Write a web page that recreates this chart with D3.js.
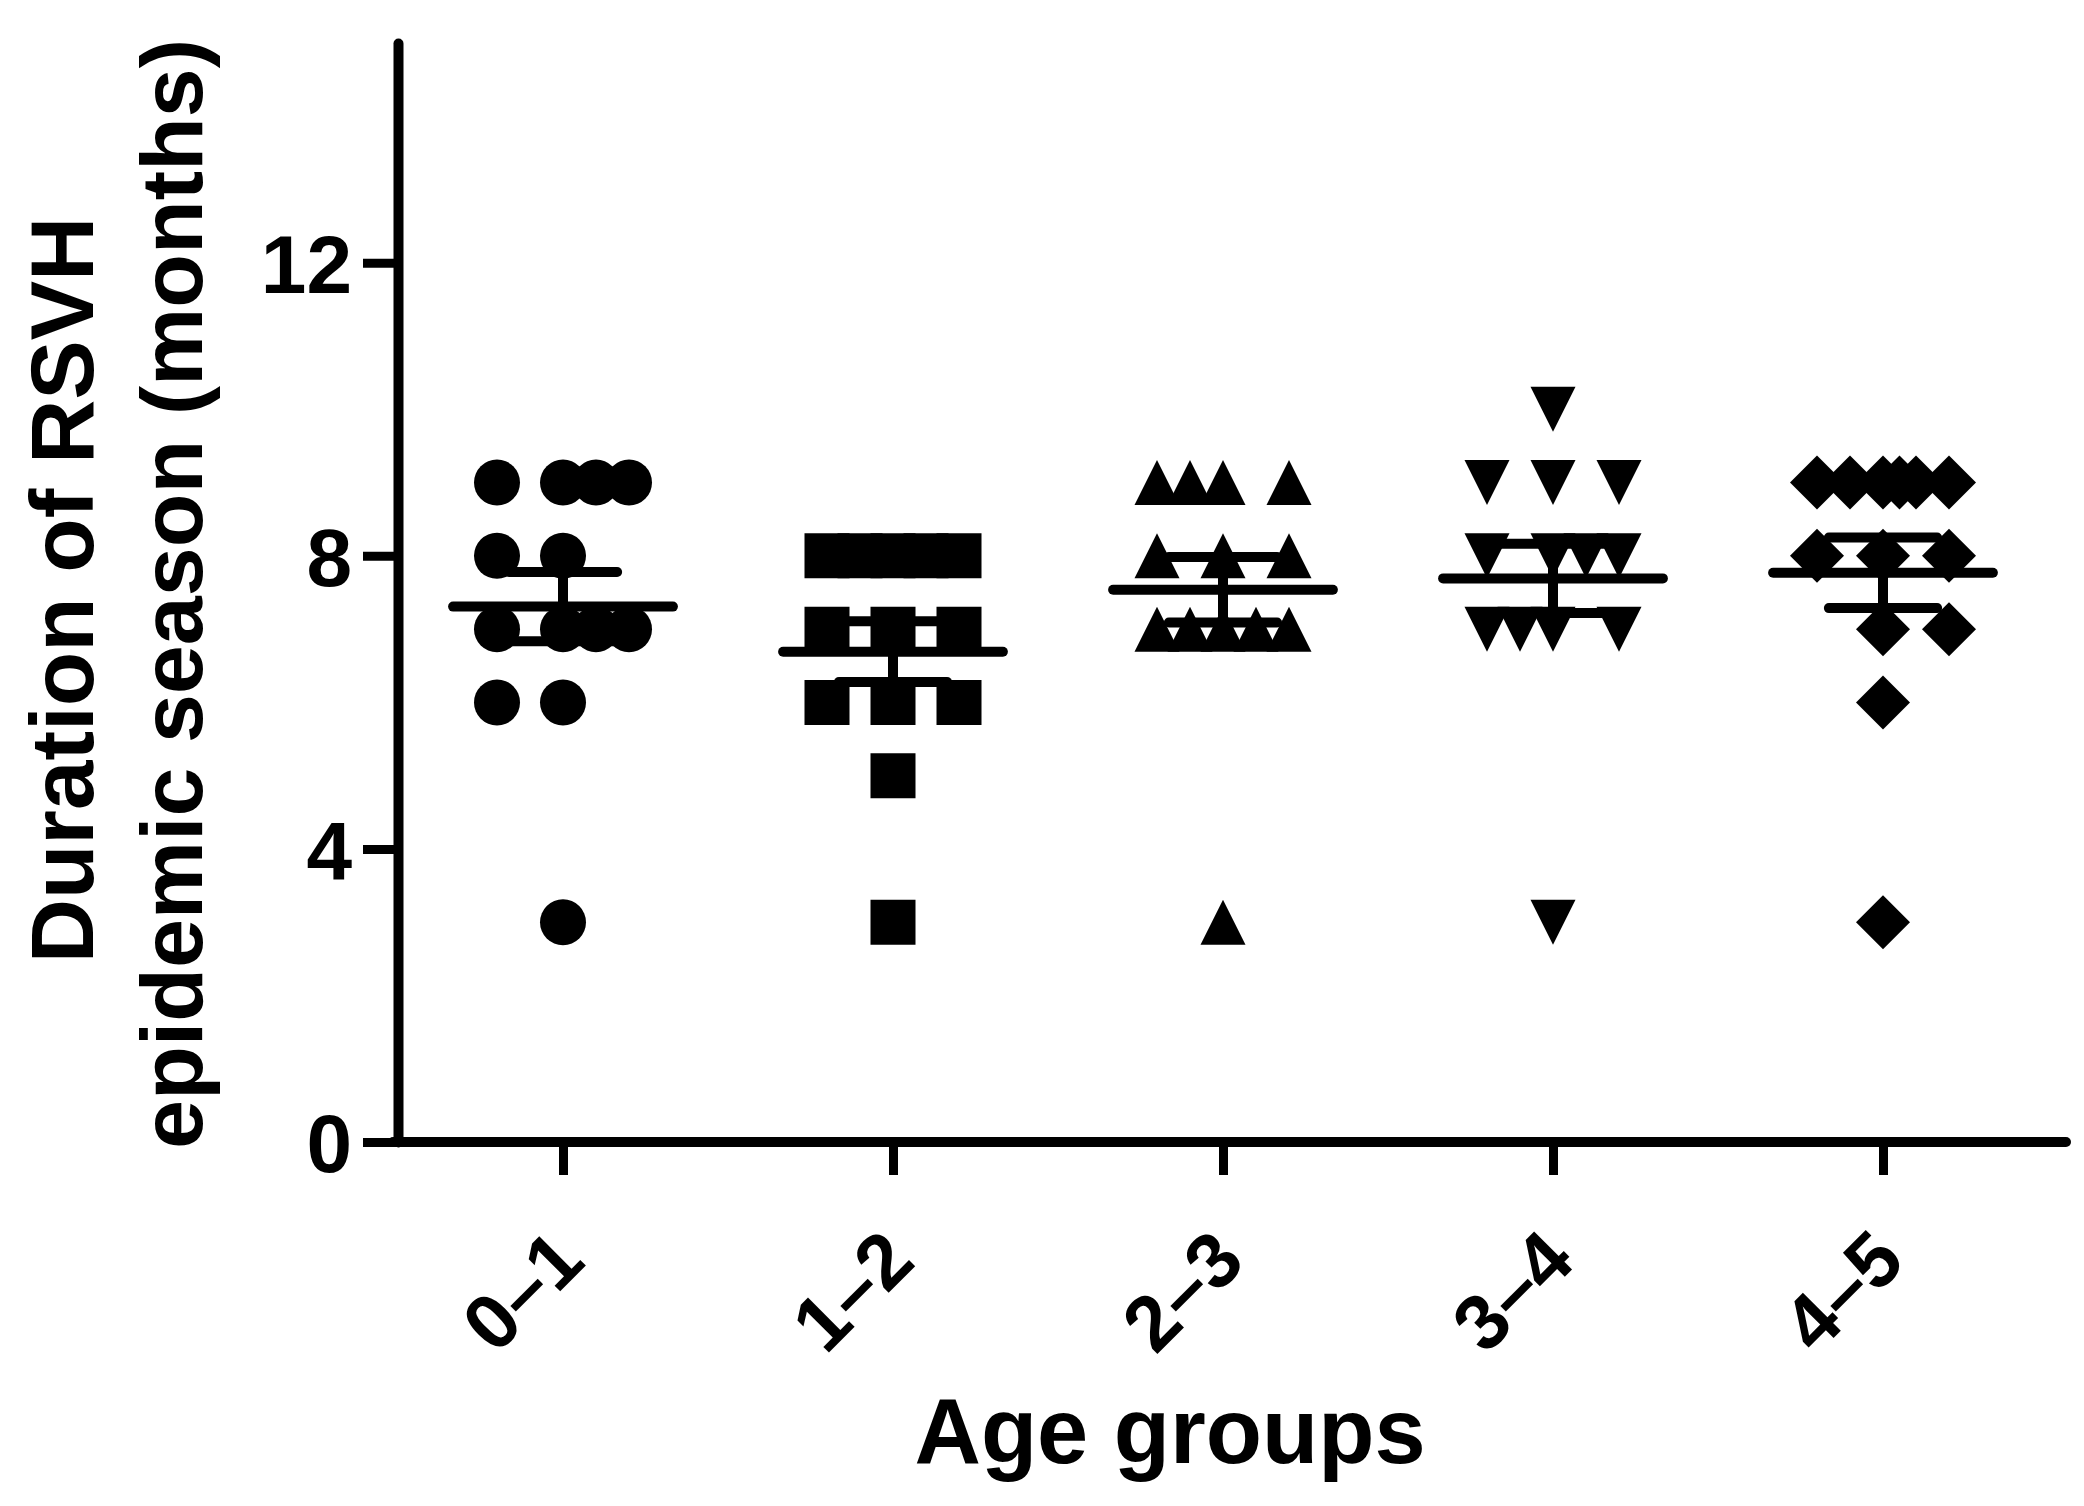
<!DOCTYPE html>
<html>
<head>
<meta charset="utf-8">
<script src="https://cdn.jsdelivr.net/npm/d3@7"></script>
<style>
  html, body { margin: 0; padding: 0; background: #fff; }
  text { font-family: "Liberation Sans", Arial, sans-serif; font-weight: bold; fill: #000; }
</style>
</head>
<body>
<div id="chart"></div>
<script>
// --- data: durations (months) per age group, and the column slot each point sits in ---
const groups = ["0–1", "1–2", "2–3", "3–4", "4–5"];

const dur01 = [9, 9, 9, 9, 8, 8, 7, 7, 7, 7, 6, 6, 3];
const dur12 = [8, 8, 8, 8, 8, 7, 7, 7, 6, 6, 6, 5, 3];
const dur23 = [9, 9, 9, 9, 8, 8, 8, 7, 7, 7, 7, 7, 3];
const dur34 = [10, 9, 9, 9, 8, 8, 8, 8, 7, 7, 7, 7, 3];
const dur45 = [9, 9, 9, 9, 9, 9, 8, 8, 8, 7, 7, 6, 3];

const slot01 = [-2, 0, 1, 2, -2, 0, -2, 0, 1, 2, -2, 0, 0];
const slot12 = [-2, -1, 0, 1, 2, -2, 0, 2, -2, 0, 2, 0, 0];
const slot23 = [-2, -1, 0, 2, -2, 0, 2, -2, -1, 0, 1, 2, 0];
const slot34 = [0, -2, 0, 2, -2, 0, 1, 2, -2, -1, 0, 2, 0];
const slot45 = [-2, -1, 0, 0.5, 1, 2, -2, 0, 2, 0, 2, 0, 0];

const yTicks = [0, 4, 8, 12];
const yTitle = ["Duration of RSVH", "epidemic season (months)"];
const xTitle = "Age groups";

const durations = [dur01, dur12, dur23, dur34, dur45];
const slots = [slot01, slot12, slot23, slot34, slot45];

// --- canvas ---
const width = 2084;
const height = 1506;

const svg = d3.select("#chart")
    .append("svg")
    .attr("width", width)
    .attr("height", height);

svg.append("rect").attr("width", width).attr("height", height).attr("fill", "#fff");

// scales
const x = d3.scalePoint()
    .domain(groups)
    .range([398, 2048])
    .padding(0.5);

const y = d3.scaleLinear()
    .domain([0, 15])
    .range([1142, 43]);

// one slot = a tenth of the group step
const jitter = d3.scaleLinear()
    .domain([-1, 1])
    .range([-x.step() * 0.1, x.step() * 0.1]);

// --- marker shapes (size = width squared) ---
const circleType = { draw(ctx, size) { const r = Math.sqrt(size) / 2; ctx.moveTo(r, 0); ctx.arc(0, 0, r, 0, 2 * Math.PI); } };
const squareType = { draw(ctx, size) { const r = Math.sqrt(size) / 2; ctx.rect(-r, -r, 2 * r, 2 * r); } };
const triUpType = { draw(ctx, size) { const r = Math.sqrt(size) / 2; ctx.moveTo(0, -r); ctx.lineTo(r, r); ctx.lineTo(-r, r); ctx.closePath(); } };
const triDownType = { draw(ctx, size) { const r = Math.sqrt(size) / 2; ctx.moveTo(0, r); ctx.lineTo(r, -r); ctx.lineTo(-r, -r); ctx.closePath(); } };
const diamondType = { draw(ctx, size) { const r = Math.sqrt(size) / 2; ctx.moveTo(0, -r); ctx.lineTo(r, 0); ctx.lineTo(0, r); ctx.lineTo(-r, 0); ctx.closePath(); } };

const markerTypes = [circleType, squareType, triUpType, triDownType, diamondType];
const markerWidths = [46, 45, 45, 45, 54];

// --- points ---
const points = [];
groups.forEach((g, gi) => {
    durations[gi].forEach((v, i) => points.push({ g, gi, v, s: slots[gi][i] }));
});

svg.append("g")
    .selectAll("path")
    .data(points)
    .enter()
    .append("path")
    .attr("transform", d => `translate(${x(d.g) + jitter(d.s)},${y(d.v)})`)
    .attr("d", d => d3.symbol().type(markerTypes[d.gi]).size(markerWidths[d.gi] ** 2)())
    .attr("fill", "#000");

// --- mean ± SEM ---
const stats = groups.map((g, gi) => {
    const vals = durations[gi];
    const m = d3.mean(vals);
    const sem = d3.deviation(vals) / Math.sqrt(vals.length);
    return { g, m, lo: m - sem, hi: m + sem };
});

const meanHalf = x.step() * 0.333;
const capHalf = x.step() * 0.164;

const bars = svg.append("g")
    .attr("stroke", "#000")
    .attr("stroke-width", 10)
    .attr("stroke-linecap", "round")
    .selectAll("g")
    .data(stats)
    .enter()
    .append("g");

bars.append("line")
    .attr("x1", d => x(d.g) - meanHalf).attr("x2", d => x(d.g) + meanHalf)
    .attr("y1", d => y(d.m)).attr("y2", d => y(d.m));
bars.append("line")
    .attr("x1", d => x(d.g)).attr("x2", d => x(d.g))
    .attr("y1", d => y(d.lo)).attr("y2", d => y(d.hi));
bars.append("line")
    .attr("x1", d => x(d.g) - capHalf).attr("x2", d => x(d.g) + capHalf)
    .attr("y1", d => y(d.hi)).attr("y2", d => y(d.hi));
bars.append("line")
    .attr("x1", d => x(d.g) - capHalf).attr("x2", d => x(d.g) + capHalf)
    .attr("y1", d => y(d.lo)).attr("y2", d => y(d.lo));

// --- axes ---
const yAxis = svg.append("g")
    .attr("transform", `translate(${x.range()[0]},0)`)
    .call(d3.axisLeft(y).tickValues(yTicks).tickSize(35).tickSizeOuter(0).tickPadding(11));

const xAxis = svg.append("g")
    .attr("transform", `translate(0,${y(0)})`)
    .call(d3.axisBottom(x).tickSize(33).tickSizeOuter(0));

// x axis line runs a little past the last group
xAxis.select(".domain").attr("d", `M${x.range()[0] - 5},0H${x.range()[1] + 18}`);

[yAxis, xAxis].forEach(ax => {
    ax.select(".domain").attr("stroke", "#000").attr("stroke-width", 10).attr("stroke-linecap", "round");
    ax.selectAll(".tick line").attr("stroke", "#000").attr("stroke-width", 9);
    ax.selectAll("text").attr("fill", "#000");
});

yAxis.selectAll(".tick text")
    .style("font-size", "82px")
    .attr("dy", "0.36em");

xAxis.selectAll(".tick text")
    .style("font-size", "78px")
    .attr("x", null)
    .attr("y", null)
    .attr("dy", null)
    .attr("text-anchor", "end")
    .attr("transform", "translate(24,122) rotate(-45)");

// --- titles ---
svg.append("text")
    .attr("transform", "translate(93,590) rotate(-90)")
    .attr("text-anchor", "middle")
    .style("font-size", "89px")
    .text(yTitle[0]);

svg.append("text")
    .attr("transform", "translate(202,594) rotate(-90)")
    .attr("text-anchor", "middle")
    .style("font-size", "88px")
    .text(yTitle[1]);

svg.append("text")
    .attr("x", 1170)
    .attr("y", 1463)
    .attr("text-anchor", "middle")
    .style("font-size", "92px")
    .text(xTitle);
</script>
</body>
</html>
